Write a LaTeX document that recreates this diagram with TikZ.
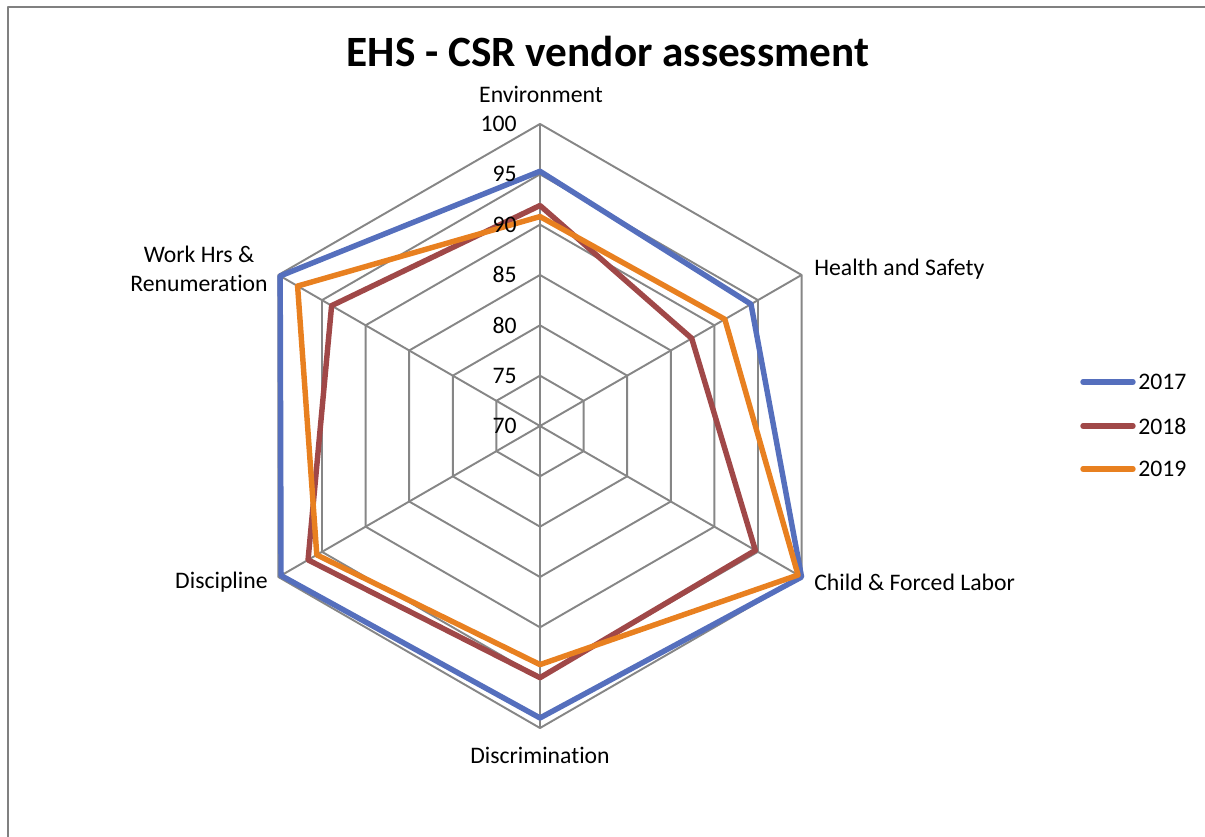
\documentclass[tikz,border=0pt]{standalone}
\usepackage{fontspec}
\setmainfont{Carlito}[Ligatures=NoCommon]
\definecolor{gridgray}{RGB}{134,134,134}
\definecolor{framegray}{RGB}{128,128,128}
\definecolor{c2017}{RGB}{85,111,189}
\definecolor{c2018}{RGB}{160,72,72}
\definecolor{c2019}{RGB}{232,128,32}
\tikzset{
  gridline/.style={gridgray,line width=1.1pt},
  series/.style={line width=3.1pt},
  legline/.style={line width=3.1pt,line cap=round},
  ticklbl/.style={anchor=east,inner sep=0pt},
  catlbl/.style={inner sep=0pt},
}
\begin{document}
\begin{tikzpicture}[x=0.02cm,y=0.02cm,line join=round,font=\fontsize{13.5}{16.4}\selectfont]
\useasboundingbox (-540,-411) rectangle (665,426);
\draw[framegray,line width=1.4pt] (-532,-411) -- (-532,419) -- (665,419);
\node[font=\fontsize{24.6}{29}\selectfont\bfseries,anchor=base] (title) at (68,359) {EHS - CSR vendor assessment};
% radar, one unit = one point of the score
\begin{scope}[x=0.2014cm,y=0.2014cm]
  \foreach \rad in {5,10,...,30}
    \draw[gridline] (90:\rad) -- (30:\rad) -- (-30:\rad) -- (-90:\rad) -- (-150:\rad) -- (150:\rad) -- cycle;
  \foreach \a in {90,30,-30,-90,-150,150}
    \draw[gridline] (0,0) -- (\a:30);
  \draw[series,c2017] (90:25.3) -- (30:24.2) -- (-30:30) -- (-90:29) -- (-150:29.7) -- (150:29.8) -- cycle;
  \draw[series,c2018] (90:21.9) -- (30:17.4) -- (-30:24.7) -- (-90:25) -- (-150:26.6) -- (150:23.9) -- cycle;
  \draw[series,c2019] (90:20.8) -- (30:21.2) -- (-30:29.6) -- (-90:23.7) -- (-150:25.6) -- (150:27.8) -- cycle;
\end{scope}
\foreach \v [count=\i from 0] in {70,75,...,100}
  \node[ticklbl] (tick\v) at (-23,50.35*\i) {\v};
\node[catlbl,anchor=base] (env) at (1,323) {Environment};
\node[catlbl,anchor=west] (hs) at (274,157) {Health and Safety};
\node[catlbl,anchor=west] (child) at (274,-156) {Child \& Forced Labor};
\node[catlbl] (discrim) at (0,-329) {Discrimination};
\node[catlbl,anchor=east] (disc) at (-272,-156) {Discipline};
\node[catlbl,anchor=east,align=center] (work) at (-272,157) {Work Hrs \&\\Renumeration};
% legend
\draw[legline,c2017] (543,44) -- (593,44);
\draw[legline,c2018] (543,0) -- (593,0);
\draw[legline,c2019] (543,-43) -- (593,-43);
\node[catlbl,anchor=west] (l2017) at (598,44) {2017};
\node[catlbl,anchor=west] (l2018) at (598,0) {2018};
\node[catlbl,anchor=west] (l2019) at (598,-43) {2019};
\end{tikzpicture}
\end{document}
